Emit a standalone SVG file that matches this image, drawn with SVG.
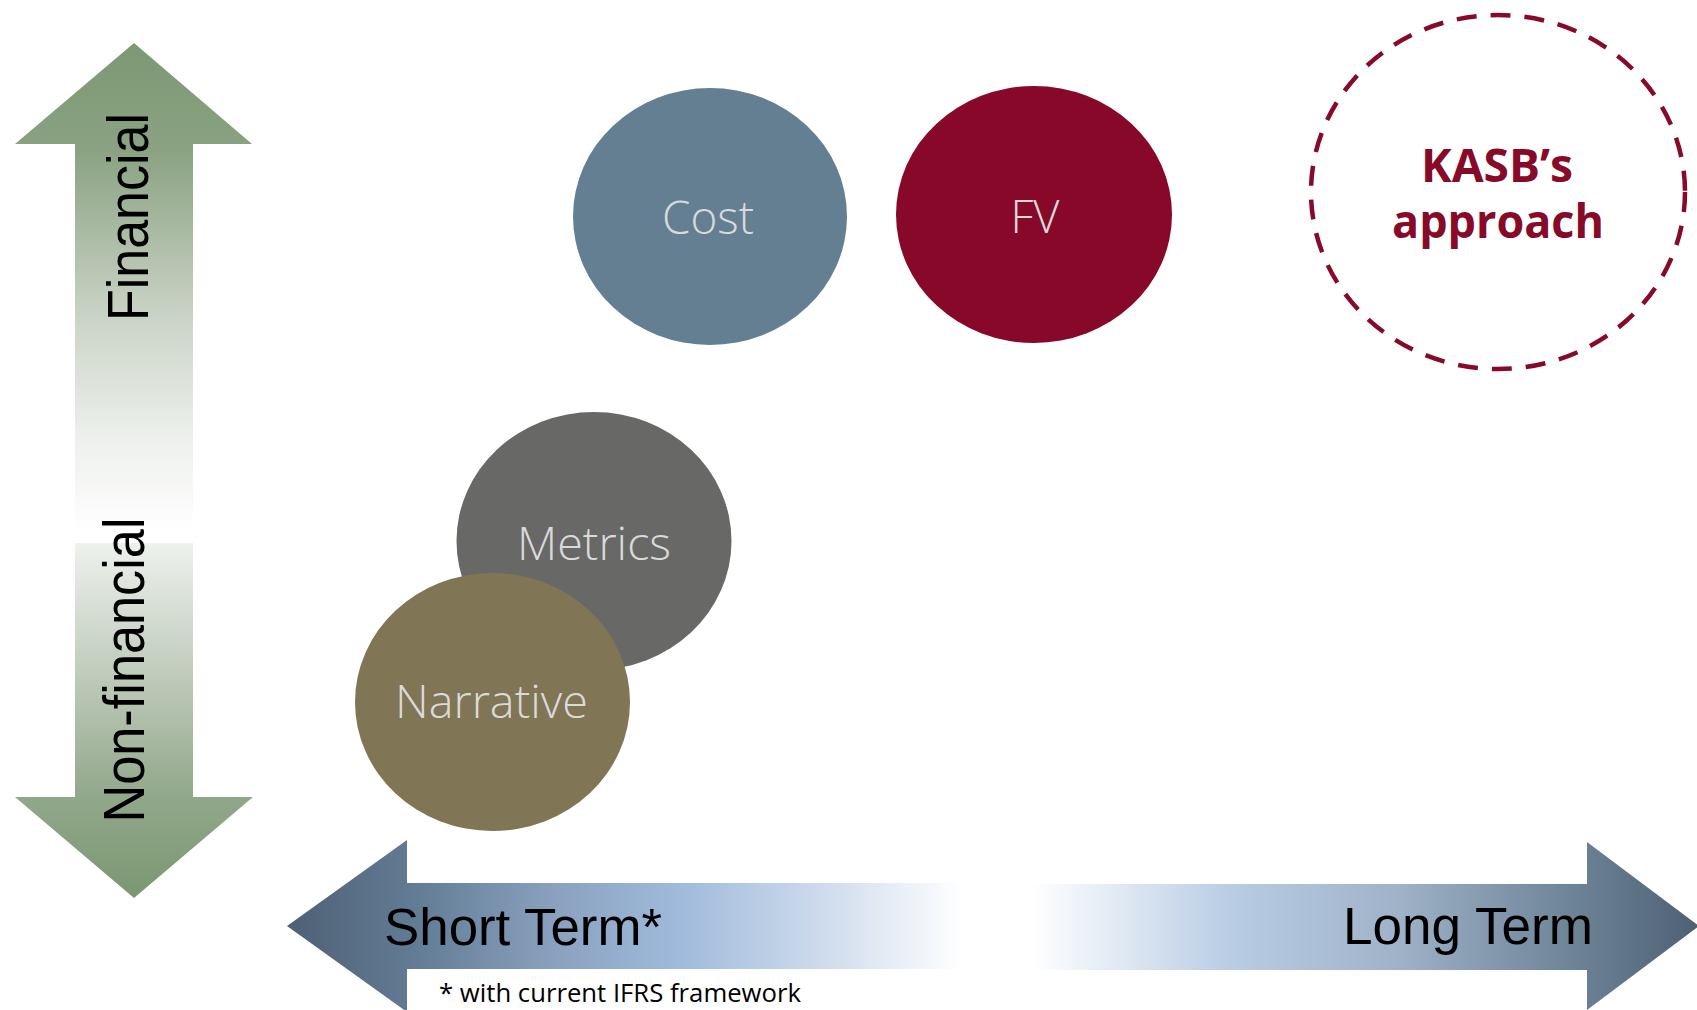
<svg xmlns="http://www.w3.org/2000/svg" width="1697" height="1010" viewBox="0 0 1697 1010">
<style>
.axis{font-family:"Liberation Sans",Arial,sans-serif;fill:#000;}
.lbl{font-family:"Open Sans","Noto Sans",sans-serif;font-weight:300;font-size:46px;fill:#dadada;text-anchor:middle;}
.kasb{font-family:"Open Sans","Noto Sans",sans-serif;font-weight:700;font-size:46px;fill:#870a28;text-anchor:middle;}
.note{font-family:"Open Sans","Noto Sans",sans-serif;font-size:26px;fill:#000;}
</style>
<defs>
<linearGradient id="gUp" gradientUnits="userSpaceOnUse" x1="0" y1="43" x2="0" y2="532">
<stop offset="0" stop-color="#7d9874"/>
<stop offset="0.22" stop-color="#8aa282"/>
<stop offset="0.55" stop-color="#c8d2c4"/>
<stop offset="0.8" stop-color="#ecefeb"/>
<stop offset="1" stop-color="#ffffff"/>
</linearGradient>
<linearGradient id="gDown" gradientUnits="userSpaceOnUse" x1="0" y1="543" x2="0" y2="898">
<stop offset="0" stop-color="#eef1ed"/>
<stop offset="0.45" stop-color="#b5c3b0"/>
<stop offset="0.72" stop-color="#91a78a"/>
<stop offset="1" stop-color="#7b9772"/>
</linearGradient>
<linearGradient id="gLeft" gradientUnits="userSpaceOnUse" x1="287" y1="0" x2="962" y2="0">
<stop offset="0" stop-color="#4e6074"/>
<stop offset="0.18" stop-color="#617a93"/>
<stop offset="0.4" stop-color="#8aa2bf"/>
<stop offset="0.58" stop-color="#9fbadb"/>
<stop offset="0.78" stop-color="#cbd9eb"/>
<stop offset="1" stop-color="#ffffff"/>
</linearGradient>
<linearGradient id="gRight" gradientUnits="userSpaceOnUse" x1="1032" y1="0" x2="1699" y2="0">
<stop offset="0" stop-color="#ffffff"/>
<stop offset="0.3" stop-color="#b8cce4"/>
<stop offset="0.55" stop-color="#9fb2c8"/>
<stop offset="0.8" stop-color="#6f8598"/>
<stop offset="1" stop-color="#4e6074"/>
</linearGradient>
</defs>

<g id="axis-financial">
<polygon points="134,43 252,144 193,144 193,532 75,532 75,144 15,144" fill="url(#gUp)"/>
<text class="axis" font-size="57" text-anchor="middle" textLength="208" lengthAdjust="spacingAndGlyphs" transform="translate(148,217) rotate(-90)">Financial</text>
</g>
<g id="axis-nonfinancial">
<polygon points="75,543 193,543 193,797 253,797 134,898 15,797 75,797" fill="url(#gDown)"/>
<text class="axis" font-size="57" text-anchor="middle" textLength="305" lengthAdjust="spacingAndGlyphs" transform="translate(144,670) rotate(-90)">Non-financial</text>
</g>
<g id="axis-short">
<polygon points="287,926 407,840 407,883 962,883 962,969 407,969 407,1012" fill="url(#gLeft)"/>
<text class="axis" x="384" y="945" font-size="51" textLength="278" lengthAdjust="spacingAndGlyphs">Short Term*</text>
<text class="note" x="439" y="1002" textLength="362" lengthAdjust="spacingAndGlyphs">* with current IFRS framework</text>
</g>
<g id="axis-long">
<polygon points="1032,884 1587,884 1587,842 1699,926 1587,1010 1587,970 1032,970" fill="url(#gRight)"/>
<text class="axis" x="1343" y="944" font-size="51" textLength="250" lengthAdjust="spacingAndGlyphs">Long Term</text>
</g>

<g id="node-cost">
<ellipse cx="710" cy="216.5" rx="137" ry="128.5" fill="#647f92"/>
<text class="lbl" x="708" y="234" textLength="92" lengthAdjust="spacingAndGlyphs">Cost</text>
</g>
<g id="node-fv">
<ellipse cx="1034" cy="214.5" rx="138" ry="128.5" fill="#870828"/>
<text class="lbl" x="1035" y="233" textLength="49" lengthAdjust="spacingAndGlyphs">FV</text>
</g>
<g id="node-metrics">
<ellipse cx="594" cy="541" rx="137.5" ry="129" fill="#686866"/>
<text class="lbl" x="594" y="560" textLength="154" lengthAdjust="spacingAndGlyphs">Metrics</text>
</g>
<g id="node-narrative">
<ellipse cx="492.5" cy="702" rx="137.5" ry="129" fill="#807554"/>
<text class="lbl" x="491.5" y="718" textLength="193" lengthAdjust="spacingAndGlyphs">Narrative</text>
</g>
<g id="node-kasb">
<ellipse cx="1498" cy="192" rx="187" ry="177" fill="none" stroke="#870a28" stroke-width="4.5" stroke-dasharray="20 14"/>
<text class="kasb" x="1497" y="182" textLength="152" lengthAdjust="spacingAndGlyphs">KASB’s</text>
<text class="kasb" x="1498" y="238" textLength="212" lengthAdjust="spacingAndGlyphs">approach</text>
</g>
<g id="connectors"></g>
</svg>
